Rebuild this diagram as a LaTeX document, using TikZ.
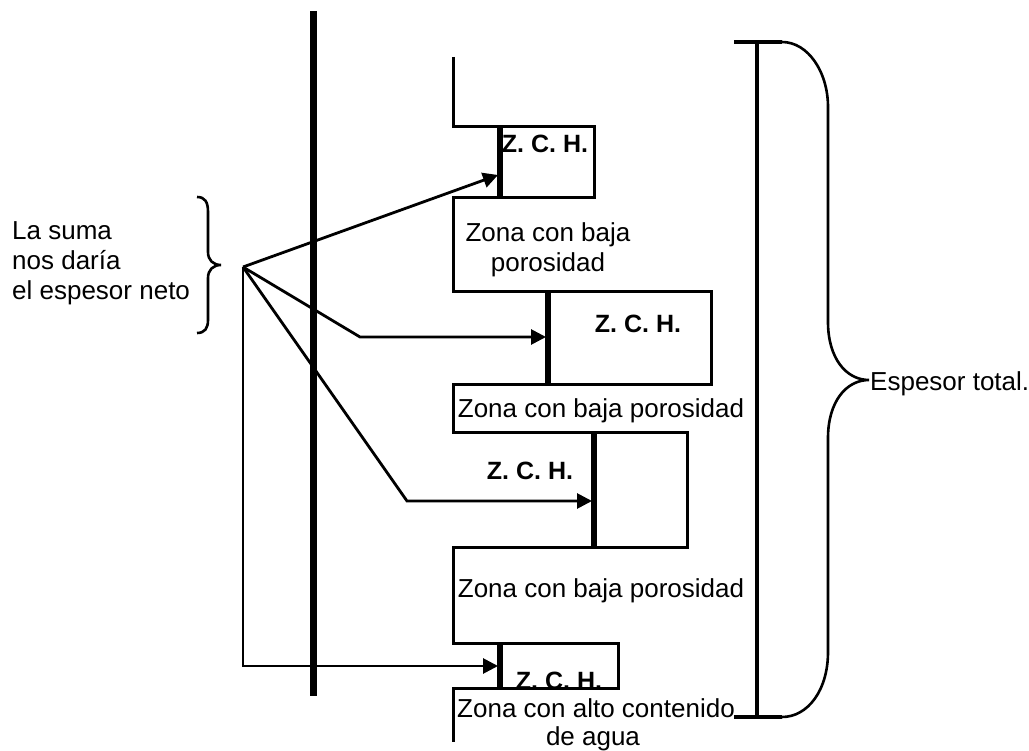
\documentclass[tikz,border=0pt]{standalone}
\usepackage{fontspec}
\setmainfont{Liberation Sans}
\usetikzlibrary{arrows.meta}
\begin{document}
\begin{tikzpicture}[x=1pt,y=-1pt,
  outline/.style={line width=3pt},
  zedge/.style={line width=5.5pt},
  conn/.style={line width=2.8pt,-{Triangle[length=15pt,width=15pt]}},
  txt/.style={font=\fontsize{26}{30}\selectfont, inner sep=0pt},
  zch/.style={font=\fontsize{25}{30}\selectfont\bfseries, inner sep=0pt},
  bracestyle/.style={line width=2.6pt}]
\useasboundingbox (0,0) rectangle (1029,751);

% stepped outline of the layers
\draw[outline] (453,57) -- (453,127) -- (594,127) -- (594,198) -- (453,198)
  -- (453,292) -- (711,292) -- (711,385) -- (453,385) -- (453,433)
  -- (687,433) -- (687,547) -- (453,547) -- (453,643) -- (618,643)
  -- (618,688) -- (453,688) -- (453,742);
% thick left edges of Z.C.H. boxes
\draw[zedge] (500,127) -- (500,198);
\draw[zedge] (548,292) -- (548,385);
\draw[zedge] (594,433) -- (594,547);
\draw[zedge] (500,643) -- (500,688);

% main vertical line (well)
\draw[line width=7pt] (313,11) -- (313,696);

% I-beam measure
\draw[line width=4.8pt] (757,42) -- (757,717);
\draw[line width=4.8pt] (734,42) -- (782,42);
\draw[line width=4.8pt] (734,717) -- (782,717);

% right brace
\draw[bracestyle] (782,42) .. controls (808,42) and (828,72) .. (828,107)
  -- (828,322) .. controls (828,358) and (846,380) .. (869,380)
  .. controls (846,380) and (828,402) .. (828,438)
  -- (828,652) .. controls (828,690) and (808,717) .. (782,717);

% left brace
\draw[bracestyle] (197,197) .. controls (205,197) and (208,202) .. (208,212)
  -- (208,252) .. controls (208,260) and (213,265) .. (221,265)
  .. controls (213,265) and (208,270) .. (208,278)
  -- (208,320) .. controls (208,328) and (205,333) .. (197,333);

% connectors
\coordinate (hub) at (243,267);
\coordinate (t1) at (498,175);
\coordinate (k2) at (360,337);
\coordinate (t2) at (546,337);
\coordinate (k3) at (407,501);
\coordinate (t3) at (592,501);
\coordinate (k4) at (243,666);
\coordinate (t4) at (498,666);
\draw[conn] (hub) -- (t1);
\draw[conn] (hub) -- (k2) -- (t2);
\draw[conn] (hub) -- (k3) -- (t3);
\draw[conn] (hub) -- (k4) -- (t4);

% texts
\node[zch] (z1) at (545,144) {Z. C. H.};
\node[zch] (z2) at (638,324) {Z. C. H.};
\node[zch] (z3) at (530,471) {Z. C. H.};
\node[zch] (z4) at (559,681) {Z. C. H.};

\node[txt,anchor=base] (b1a) at (548,242) {Zona con baja};
\node[txt,anchor=base] (b1b) at (548,272) {porosidad};
\node[txt,anchor=base] (b2) at (601,418) {Zona con baja porosidad};
\node[txt,anchor=base] (b3) at (601,597) {Zona con baja porosidad};
\node[txt,anchor=base] (w1) at (596,717) {Zona con alto contenido};
\node[txt,anchor=base] (w2) at (593,745) {de agua};

\node[txt,anchor=base west] (s1) at (12,240) {La suma};
\node[txt,anchor=base west] (s2) at (12,270) {nos daría};
\node[txt,anchor=base west] (s3) at (12,300) {el espesor neto};

\node[txt,anchor=base west] (et) at (870,391) {Espesor total.};
\end{tikzpicture}
\end{document}
